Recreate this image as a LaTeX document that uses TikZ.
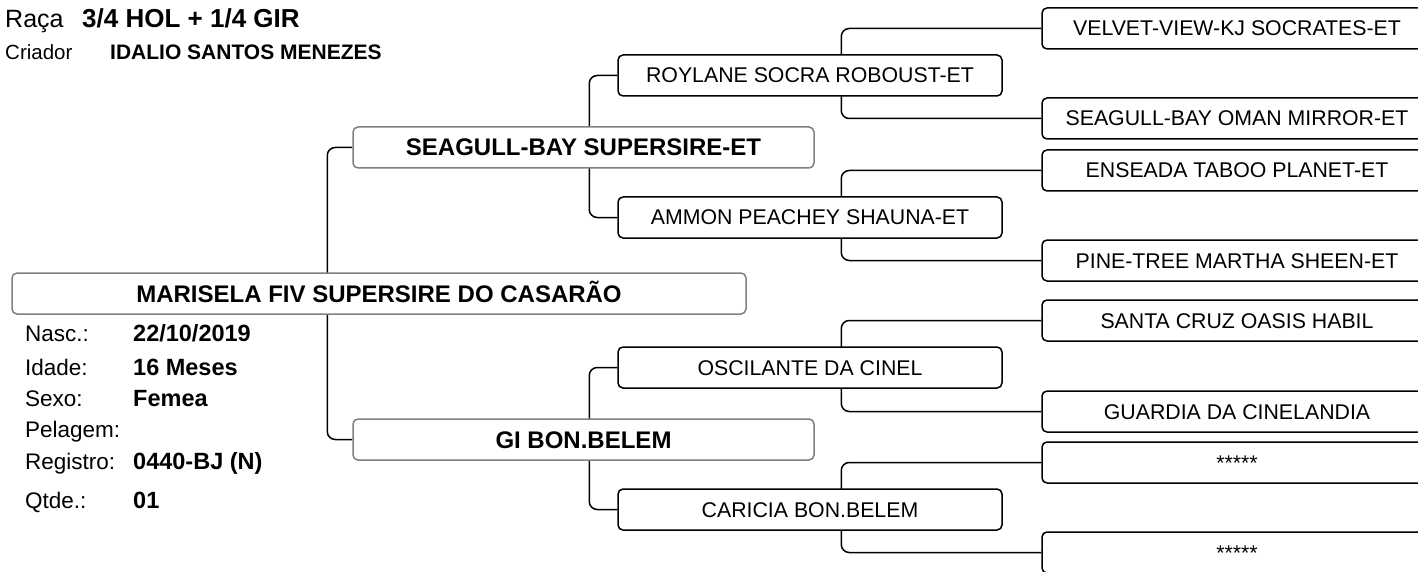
\documentclass[tikz,border=0pt]{standalone}
\usepackage{fontspec}
\setmainfont{Liberation Sans}
\usetikzlibrary{backgrounds}
\tikzset{
  animal/.style={draw=black,line width=1.5pt,rounded corners=5pt,fill=white,
    minimum height=41pt,inner sep=0pt,text height=15pt,text depth=0pt,
    font=\fontsize{21.3}{25}\selectfont},
  parent/.style={animal,draw=gray,text height=17pt,
    font=\bfseries\fontsize{24}{28}\selectfont},
  link/.style={line width=1.5pt,rounded corners=8pt},
  lbl/.style={anchor=base west,inner sep=0pt,font=\fontsize{22.5}{26}\selectfont},
  val/.style={anchor=base west,inner sep=0pt,font=\bfseries\fontsize{23.5}{26}\selectfont}
}
\begin{document}
\begin{tikzpicture}[x=1pt,y=-1pt]
    \useasboundingbox (0,0) rectangle (1418,572);
    % heading
    \node[lbl,font=\fontsize{25}{30}\selectfont] (raca) at (5,28) {Raça};
    \node[val,font=\bfseries\fontsize{26}{30}\selectfont] (racav) at (82,28) {3/4 HOL + 1/4 GIR};
    \node[lbl,font=\fontsize{20.5}{24}\selectfont] (criador) at (5,60) {Criador};
    \node[val,font=\bfseries\fontsize{21}{24}\selectfont] (criadorv) at (110,60) {IDALIO SANTOS MENEZES};
    % animal
    \node[parent,minimum width=734pt] (animal) at (379,293.5) {MARISELA FIV SUPERSIRE DO CASARÃO};
    \node[lbl] (nasc) at (25,341) {Nasc.:};
    \node[val] (nascv) at (133,341) {22/10/2019};
    \node[lbl] (idade) at (25,375) {Idade:};
    \node[val] (idadev) at (133,375) {16 Meses};
    \node[lbl] (sexo) at (25,406) {Sexo:};
    \node[val] (sexov) at (133,406) {Femea};
    \node[lbl] (pelagem) at (25,437) {Pelagem:};
    \node[lbl] (registro) at (25,469) {Registro:};
    \node[val] (registrov) at (133,469) {0440-BJ (N)};
    \node[lbl] (qtde) at (25,508) {Qtde.:};
    \node[val] (qtdev) at (133,508) {01};
    % pais
    \node[parent,minimum width=461pt] (pai) at (583.5,147.5) {SEAGULL-BAY SUPERSIRE-ET};
    \node[parent,minimum width=461pt] (mae) at (583.5,439.5) {GI BON.BELEM};
    % avos
    \node[animal,minimum width=384pt] (avop) at (810,75.5) {ROYLANE SOCRA ROBOUST-ET};
    \node[animal,minimum width=384pt] (avap) at (810,217.5) {AMMON PEACHEY SHAUNA-ET};
    \node[animal,minimum width=384pt] (avom) at (810,367.5) {OSCILANTE DA CINEL};
    \node[animal,minimum width=384pt] (avam) at (810,509.5) {CARICIA BON.BELEM};
    % bisavos
    \foreach \y/\n/\t in {28.5/b1/VELVET-VIEW-KJ SOCRATES-ET,118.5/b2/SEAGULL-BAY OMAN MIRROR-ET,
        170.5/b3/ENSEADA TABOO PLANET-ET,260.5/b4/PINE-TREE MARTHA SHEEN-ET,
        320.5/b5/SANTA CRUZ OASIS HABIL,411.5/b6/GUARDIA DA CINELANDIA,
        462.5/b7/*****,552.5/b8/*****}
    {
        \node[animal,minimum width=390pt] (\n) at (1237,\y) {\t};
    }
    \begin{scope}[on background layer]
        \draw[link] (pai.west) -- ++(-25,0) |- (mae.west);
        \draw[link] (avop.west) -- ++(-28,0) |- (avap.west);
        \draw[link] (avom.west) -- ++(-28,0) |- (avam.west);
        \foreach \a/\b in {b1/b2,b3/b4,b5/b6,b7/b8}
        {
            \draw[link] (\a.west) -- ++(-200,0) |- (\b.west);
        }
    \end{scope}
\end{tikzpicture}
\end{document}
